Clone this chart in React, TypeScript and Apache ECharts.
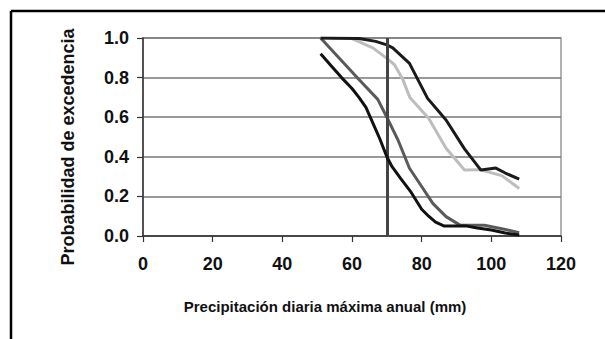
import React, { useEffect, useRef } from "react";
import * as echarts from "echarts";

const xTicks = [0, 20, 40, 60, 80, 100, 120];
const yTicks = [0, 0.2, 0.4, 0.6, 0.8, 1.0];

const lowBlackX = [51, 54, 57, 60, 62, 64, 66, 68, 70, 71.5, 74, 77, 80, 82, 84, 86.5, 90, 93, 96, 100, 104, 108];
const lowBlackY = [0.92, 0.86, 0.8, 0.745, 0.7, 0.65, 0.57, 0.49, 0.4, 0.35, 0.29, 0.22, 0.135, 0.1, 0.07, 0.05, 0.05, 0.05, 0.04, 0.03, 0.015, 0.005];

const darkGrayX = [51, 55.5, 62, 67.4, 70, 73.2, 76.5, 80, 83.2, 87, 91, 98, 103, 108];
const darkGrayY = [1.0, 0.914, 0.79, 0.69, 0.6, 0.485, 0.342, 0.25, 0.165, 0.098, 0.055, 0.054, 0.037, 0.017];

const lightGrayX = [51, 60, 66, 70, 72.2, 74.6, 76.6, 82, 87, 92.3, 96.6, 103, 108];
const lightGrayY = [1.0, 0.997, 0.95, 0.897, 0.865, 0.79, 0.7, 0.595, 0.443, 0.333, 0.335, 0.305, 0.24];

const topBlackX = [51, 62, 66.8, 70, 71.7, 76.5, 81.7, 87, 92.3, 97, 101.3, 104, 108];
const topBlackY = [1.0, 0.997, 0.983, 0.965, 0.95, 0.872, 0.695, 0.586, 0.44, 0.333, 0.343, 0.318, 0.287];

const thresholdX = 70;
const xName = "Precipitación diaria máxima anual (mm)";
const yName = "Probabilidad de excedencia";

const pairs = (xs: number[], ys: number[]) => xs.map((x, i) => [x, ys[i]]);

export default function App() {
  const ref = useRef<HTMLDivElement>(null);
  useEffect(() => {
    if (!ref.current) return;
    const chart = echarts.init(ref.current, null, { renderer: "svg" });
    const font = "'Liberation Sans', Arial, sans-serif";
    const lineSeries = (data: number[][], color: string, z: number) => ({
      type: "line",
      data,
      showSymbol: false,
      symbol: "none",
      z,
      lineStyle: { color, width: 3 },
    });
    chart.setOption({
      animation: false,
      backgroundColor: "#fff",
      grid: {
        left: 143,
        right: 44,
        top: 38,
        bottom: 103,
        show: true,
        borderColor: "#999",
        borderWidth: 1.5,
      },
      xAxis: {
        type: "value",
        min: xTicks[0],
        max: xTicks[xTicks.length - 1],
        interval: 20,
        axisLine: { show: true, lineStyle: { color: "#333", width: 1.5 } },
        axisTick: { show: true, length: 6, lineStyle: { color: "#333", width: 1.2 } },
        splitLine: { show: false },
        axisLabel: {
          margin: 19,
          color: "#111",
          fontFamily: font,
          fontWeight: "bold",
          fontSize: 18,
        },
      },
      yAxis: {
        type: "value",
        min: yTicks[0],
        max: yTicks[yTicks.length - 1],
        interval: 0.2,
        axisLine: { show: true, lineStyle: { color: "#333", width: 1.5 } },
        axisTick: { show: true, length: 6, lineStyle: { color: "#333", width: 1.2 } },
        splitLine: { show: true, lineStyle: { color: "#777", width: 1.5 } },
        axisLabel: {
          margin: 14,
          color: "#111",
          fontFamily: font,
          fontWeight: "bold",
          fontSize: 18,
          formatter: (v: number) => v.toFixed(1),
        },
      },
      series: [
        lineSeries(pairs(lightGrayX, lightGrayY), "#bdbdbd", 2),
        lineSeries(pairs(darkGrayX, darkGrayY), "#5a5a5a", 3),
        lineSeries(pairs(topBlackX, topBlackY), "#1a1a1a", 4),
        {
          ...lineSeries(pairs(lowBlackX, lowBlackY), "#111", 5),
          markLine: {
            silent: true,
            symbol: "none",
            label: { show: false },
            lineStyle: { color: "#444", width: 3, type: "solid" },
            data: [{ xAxis: thresholdX }],
          },
        },
      ],
      graphic: [
        {
          type: "line",
          shape: { x1: 11, y1: 11, x2: 605, y2: 11 },
          style: { stroke: "#000", lineWidth: 2.5 },
        },
        {
          type: "line",
          shape: { x1: 11, y1: 11, x2: 11, y2: 339 },
          style: { stroke: "#000", lineWidth: 2.5 },
        },
        {
          type: "text",
          x: 325,
          y: 306,
          style: {
            text: xName,
            fill: "#111",
            font: `bold 15px ${font}`,
            textAlign: "center",
            textVerticalAlign: "middle",
          },
        },
        {
          type: "text",
          x: 68,
          y: 147,
          rotation: Math.PI / 2,
          style: {
            text: yName,
            fill: "#111",
            font: `bold 18px ${font}`,
            textAlign: "center",
            textVerticalAlign: "middle",
          },
        },
      ],
    });
    return () => chart.dispose();
  }, []);
  return (
    <div
      ref={ref}
      style={{ position: "fixed", left: 0, top: 0, width: 605, height: 339 }}
    />
  );
}
